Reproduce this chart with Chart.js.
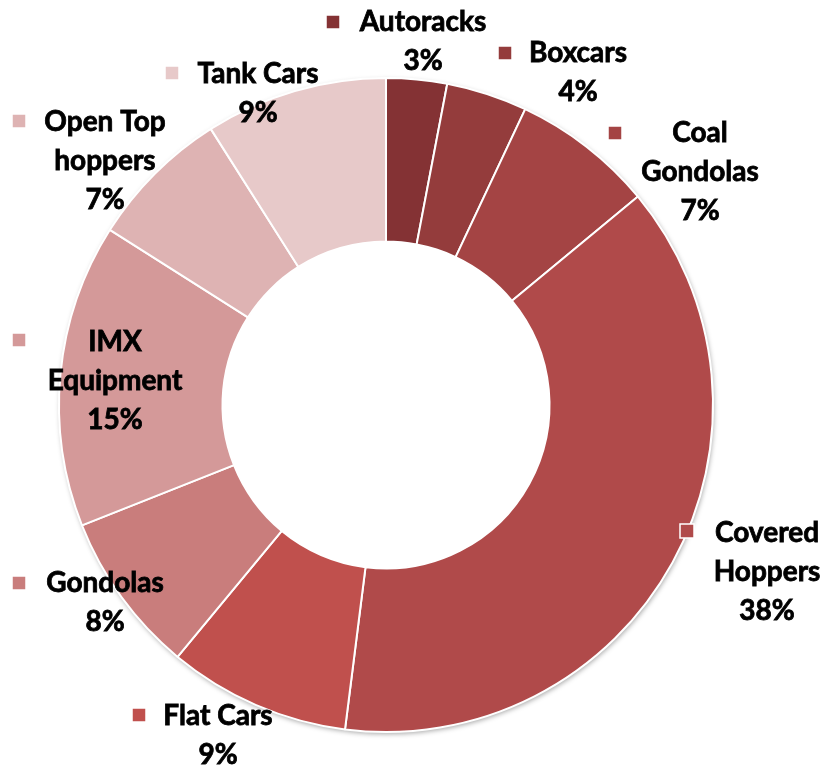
<!DOCTYPE html>
<html>
<head>
<meta charset="utf-8">
<script src="https://cdn.jsdelivr.net/npm/chart.js@4"></script>
<style>
  html, body { margin: 0; padding: 0; background: #fff; }
  #wrap { width: 827px; height: 766px; position: relative; }
</style>
</head>
<body>
<div id="wrap"><canvas id="carChart" width="827" height="766"></canvas></div>
<script>
// car types and their share of the fleet (%)
const carTypes = ['Autoracks', 'Boxcars', 'Coal Gondolas', 'Covered Hoppers', 'Flat Cars',
  'Gondolas', 'IMX Equipment', 'Open Top hoppers', 'Tank Cars'];
const sharePct = [3, 4, 7, 38, 9, 8, 15, 7, 9];
const sliceColors = ['#843234', '#943c3c', '#a44444', '#b04a4a', '#c0504d',
  '#c97d7c', '#d49999', '#deb3b3', '#e7c9c9'];

// how each label breaks into lines
const labelLines = [['Autoracks'], ['Boxcars'], ['Coal', 'Gondolas'], ['Covered', 'Hoppers'],
  ['Flat Cars'], ['Gondolas'], ['IMX', 'Equipment'], ['Open Top', 'hoppers'], ['Tank Cars']];

// label placement: marker square (mx,my), text centre x, first line y
const labelPos = [
  { mx: 333, my: 22, tx: 423, ty: 22 },
  { mx: 505, my: 53, tx: 578, ty: 53 },
  { mx: 615, my: 133, tx: 700, ty: 133 },
  { mx: 687, my: 531, tx: 767, ty: 533 },
  { mx: 139, my: 715, tx: 218, ty: 716 },
  { mx: 19, my: 583, tx: 105, ty: 583 },
  { mx: 19, my: 340, tx: 115, ty: 342 },
  { mx: 19, my: 121, tx: 105, ty: 122 },
  { mx: 172, my: 73, tx: 258, ty: 74 }
];

const lineGap = 39;

const sliceLabels = {
  id: 'sliceLabels',
  afterDraw(chart) {
    const ctx = chart.ctx;
    ctx.save();
    ctx.font = 'bold 28px Lato, "Open Sans", sans-serif';
    ctx.textAlign = 'center';
    ctx.textBaseline = 'middle';
    labelPos.forEach((p, i) => {
      // marker
      ctx.fillStyle = sliceColors[i];
      ctx.fillRect(p.mx - 7, p.my - 7, 14, 14);
      ctx.strokeStyle = '#fff';
      ctx.lineWidth = 1.5;
      ctx.strokeRect(p.mx - 7, p.my - 7, 14, 14);
      // text, with a thin stroke to thicken the bold face a little
      ctx.fillStyle = '#000';
      ctx.strokeStyle = '#000';
      ctx.lineWidth = 0.8;
      const lines = labelLines[i].concat([sharePct[i] + '%']);
      lines.forEach((t, k) => {
        ctx.fillText(t, p.tx, p.ty + k * lineGap);
        ctx.strokeText(t, p.tx, p.ty + k * lineGap);
      });
    });
    ctx.restore();
  }
};

// soft shadow round the outer rim of the ring
const rimShadow = {
  id: 'rimShadow',
  beforeDatasetsDraw(chart) {
    const arc = chart.getDatasetMeta(0).data[0];
    if (!arc) return;
    const ctx = chart.ctx;
    ctx.save();
    ctx.shadowColor = 'rgba(0,0,0,0.35)';
    ctx.shadowBlur = 5;
    ctx.shadowOffsetX = 1;
    ctx.shadowOffsetY = 2;
    ctx.fillStyle = '#fff';
    ctx.beginPath();
    ctx.arc(arc.x, arc.y, arc.outerRadius, 0, Math.PI * 2);
    ctx.fill();
    ctx.restore();
  }
};

const config = {
  type: 'doughnut',
  data: {
    labels: carTypes,
    datasets: [{
      data: sharePct,
      backgroundColor: sliceColors,
      borderColor: '#ffffff',
      borderWidth: 2,
      hoverOffset: 0
    }]
  },
  options: {
    responsive: false,
    animation: false,
    cutout: '50%',
    layout: {
      padding: { left: 58, right: 113, top: 77, bottom: 33 }
    },
    plugins: {
      legend: { display: false },
      tooltip: { enabled: false }
    }
  },
  plugins: [rimShadow, sliceLabels]
};

const carChart = new Chart(document.getElementById('carChart'), config);
</script>
</body>
</html>
